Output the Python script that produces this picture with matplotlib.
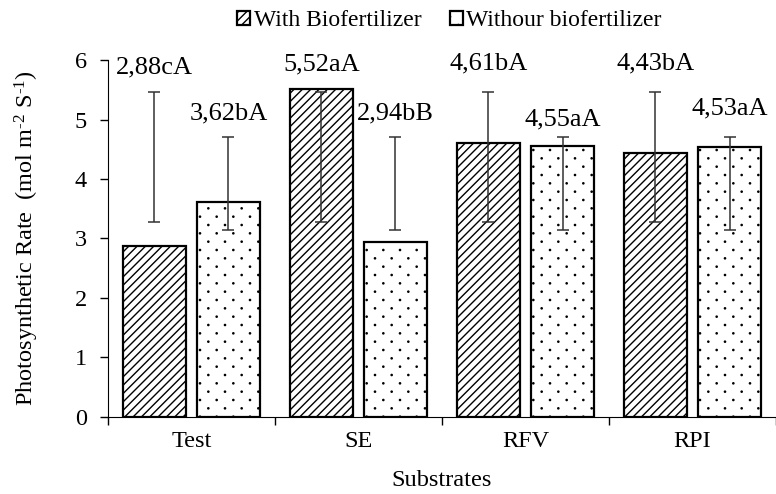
import matplotlib.pyplot as plt
import matplotlib.hatch as mhatch
from matplotlib.path import Path
import numpy as np

plt.rcParams['font.family'] = ['Liberation Serif', 'DejaVu Serif']
plt.rcParams['mathtext.fontset'] = 'custom'
plt.rcParams['mathtext.rm'] = 'Liberation Serif'
plt.rcParams['mathtext.default'] = 'rm'
plt.rcParams['hatch.linewidth'] = 1.0

substrates = ['Test', 'SE', 'RFV', 'RPI']
with_bio = [2.88, 5.52, 4.61, 4.43]
without_bio = [3.62, 2.94, 4.55, 4.53]
with_labels = ['2,88cA', '5,52aA', '4,61bA', '4,43bA']
without_labels = ['3,62bA', '2,94bB', '4,55aA', '4,53aA']
# error bars (the original draws them around the series mean)
with_err_low = [3.27, 3.27, 3.27, 3.27]
with_err_high = [5.46, 5.46, 5.46, 5.46]
without_err_low = [3.14, 3.14, 3.14, 3.14]
without_err_high = [4.70, 4.70, 4.70, 4.70]

# where the value labels sit (data units)
with_label_y = [5.88, 5.92, 5.95, 5.95]
without_label_y = [5.11, 5.10, 5.00, 5.19]


class SparseDots:
    """Excel-like sparse dot fill: 6 columns, 12 staggered rows per unit."""
    def __init__(self, hatch, density):
        self.n = hatch.count('.') * density
        self.r = 0.006
        circ = Path.unit_circle()
        self.sv = circ.vertices * self.r
        self.sc = circ.codes
        if self.n == 0:
            self.num_vertices = 0
        else:
            nshapes = (self.n + 1) * (self.n + 1) + self.n * self.n
            self.num_vertices = nshapes * len(self.sv)

    def set_vertices_and_codes(self, vertices, codes):
        step = 1.0 / self.n
        vparts, cparts = [], []
        for row in range(2 * self.n + 1):
            if row % 2 == 0:
                cols = np.linspace(0, 1, self.n + 1)
            else:
                cols = np.linspace(step / 2, 1 - step / 2, self.n)
            for c in cols:
                vparts.append(self.sv + [c, row * step / 2])
                cparts.append(self.sc)
        np.concatenate(vparts, out=vertices)
        np.concatenate(cparts, out=codes)


mhatch._hatch_types = [SparseDots if t is mhatch.SmallFilledCircles else t
                       for t in mhatch._hatch_types]

fig = plt.figure(figsize=(7.76, 4.94), dpi=100)
ax = fig.add_axes([0.139, 0.156, 0.861, 0.7225])

x = np.arange(len(substrates))
w = 0.375
off = 0.222

b1 = ax.bar(x - off, with_bio, w, color='white', edgecolor='black',
            linewidth=1.6, hatch='////', label='With Biofertilizer')
b2 = ax.bar(x + off, without_bio, w, color='white', edgecolor='black',
            linewidth=1.6, hatch='.', label='Withour biofertilizer')

for xs, lo, hi in [(x - off, with_err_low, with_err_high),
                   (x + off, without_err_low, without_err_high)]:
    lo = np.array(lo)
    hi = np.array(hi)
    mid = (lo + hi) / 2
    ax.errorbar(xs, mid, yerr=(hi - lo) / 2, fmt='none', ecolor='#333333',
                elinewidth=1.1, capsize=4.5, capthick=1.1)

for xi, t, yy in zip(x - off, with_labels, with_label_y):
    ax.text(xi, yy, t, ha='center', va='center', fontsize=19)
for xi, t, yy in zip(x + off, without_labels, without_label_y):
    ax.text(xi, yy, t, ha='center', va='center', fontsize=19)

ax.set_xlim(-0.5, 3.476)
ax.set_ylim(0, 6)
ax.set_yticks(range(7))
ax.set_xticks(x)
ax.set_xticklabels(substrates)
ax.set_xticks(np.arange(-0.5, 4, 1), minor=True)
ax.tick_params(axis='x', which='major', length=0, pad=10, labelsize=17.5)
ax.tick_params(axis='x', which='minor', length=6, width=1)
ax.tick_params(axis='y', length=6, width=1, labelsize=17.5, pad=9)

ax.spines['top'].set_visible(False)
ax.spines['right'].set_visible(False)

ax.set_xlabel('Substrates', fontsize=17.5, labelpad=13)
ax.set_ylabel(r'Photosynthetic Rate  (mol m$^{\text{-2}}$ S$^{\text{-1}}$)',
              fontsize=17.5, labelpad=24)

fig.legend(handles=[b1, b2], loc='center', bbox_to_anchor=(0.579, 0.958),
           ncol=2, frameon=False, fontsize=17, handlelength=0.55,
           handleheight=0.55, handletextpad=0.15, columnspacing=1.2)

fig.savefig('out.png', dpi=100)
